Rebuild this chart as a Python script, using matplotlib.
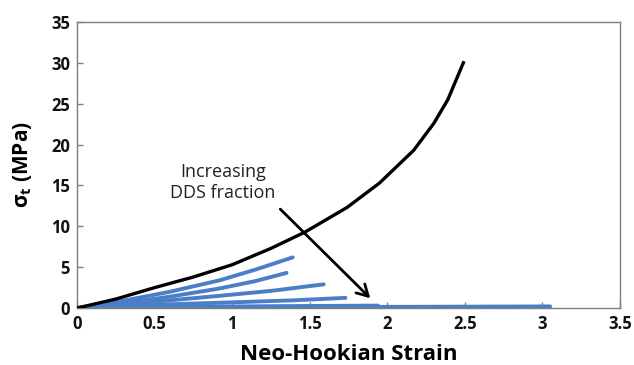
import numpy as np
import matplotlib.pyplot as plt

plt.rcParams['font.family'] = ['Open Sans', 'DejaVu Sans']
plt.rcParams['mathtext.fontset'] = 'dejavusans'

# neat elastomer (black) stress-strain
neat_strain = [0, 0.25, 0.5, 0.75, 1.0, 1.25, 1.47, 1.74, 1.95, 2.17, 2.30, 2.39, 2.49]
neat_stress = [0, 1.1, 2.5, 3.8, 5.3, 7.3, 9.3, 12.3, 15.3, 19.3, 22.6, 25.5, 30.0]

# DDS-filled samples, increasing DDS fraction
dds_strain = [
    [0, 0.3, 0.6, 0.92, 1.15, 1.39],
    [0, 0.3, 0.6, 0.92, 1.15, 1.35],
    [0, 0.4, 0.92, 1.25, 1.59],
    [0, 0.5, 1.0, 1.4, 1.73],
    [0, 1.0, 1.94],
    [0, 1.5, 3.05],
]
dds_stress = [
    [0, 0.9, 2.0, 3.4, 4.7, 6.2],
    [0, 0.6, 1.4, 2.4, 3.3, 4.3],
    [0, 0.6, 1.5, 2.1, 2.9],
    [0, 0.4, 0.7, 0.95, 1.25],
    [0, 0.2, 0.3],
    [0, 0.12, 0.2],
]

fig = plt.figure(figsize=(6.34, 3.65), dpi=100)
ax = fig.add_axes([0.1215, 0.156, 0.8565, 0.784])

for xs, ys in zip(dds_strain, dds_stress):
    ax.plot(xs, ys, color='#4a7ec6', lw=2.8, solid_capstyle='round',
            solid_joinstyle='round', zorder=2)
ax.plot(neat_strain, neat_stress, color='black', lw=2.4,
        solid_joinstyle='round', zorder=3)

ax.annotate('', xy=(1.89, 1.2), xytext=(1.31, 12.1),
            arrowprops=dict(arrowstyle='->,head_length=0.8,head_width=0.45',
                            color='black', lw=2.0, shrinkA=0, shrinkB=0),
            zorder=4)
ax.text(0.94, 15.4, 'Increasing\nDDS fraction', ha='center', va='center',
        fontsize=13, linespacing=1.2, color='#222222')

ax.set_xlim(0, 3.5)
ax.set_ylim(0, 35)
ax.set_xticks(np.arange(0, 3.51, 0.5))
ax.set_xticklabels(['0', '0.5', '1', '1.5', '2', '2.5', '3', '3.5'])
ax.set_yticks(np.arange(0, 36, 5))
for sp in ax.spines.values():
    sp.set_color('#7f7f7f')
    sp.set_linewidth(1.0)
ax.tick_params(direction='in', length=4, width=1, color='#7f7f7f',
               labelsize=12, pad=5, labelcolor='#111111')
for lab in ax.get_xticklabels() + ax.get_yticklabels():
    lab.set_fontweight('bold')

ax.set_xlabel('Neo-Hookian Strain', fontsize=16, fontweight='bold', labelpad=8)
ax.set_ylabel(r'$\mathregular{\sigma_t}$ (MPa)', fontsize=15, fontweight='bold', labelpad=12)

fig.savefig('out.png', dpi=100)
